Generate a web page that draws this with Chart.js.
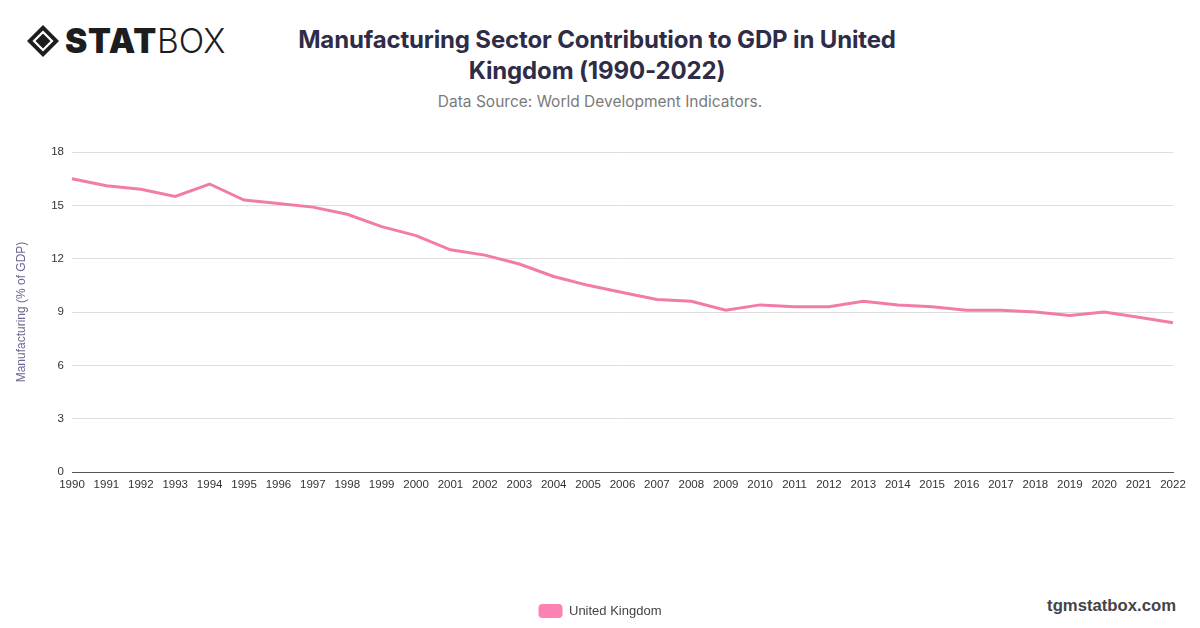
<!DOCTYPE html>
<html>
<head>
<meta charset="utf-8">
<script src="https://cdn.jsdelivr.net/npm/chart.js@4.4.1/dist/chart.umd.min.js"></script>
<style>
  html, body { margin:0; padding:0; background:#fff; width:1200px; height:628px; overflow:hidden; }
  #logo { position:absolute; left:26px; top:22px; height:38px; display:flex; align-items:center; }
  #logo .t1 { font-family:Inter, sans-serif; font-weight:900; font-size:33.5px; color:#1d1d1f; letter-spacing:0.8px; margin-left:5px; }
  #logo .t2 { font-family:Inter, sans-serif; font-weight:300; font-size:33.5px; color:#1d1d1f; letter-spacing:0px; margin-left:0px; }
  #title { position:absolute; left:247px; width:700px; top:24px; text-align:center; font-family:Inter, sans-serif; font-weight:700; font-size:24px; line-height:31px; color:#2f2c47; letter-spacing:-0.15px; }
  #sub { position:absolute; left:300px; width:600px; top:92px; text-align:center; font-family:Inter, sans-serif; font-size:15.5px; color:#7a7a7a; }
  #wm { position:absolute; right:24px; top:596px; font-family:"Liberation Sans", Arial, sans-serif; font-weight:700; font-size:16.7px; color:#444; }
  #wrap { position:absolute; left:0; top:130px; width:1200px; height:498px; }
</style>
</head>
<body>
<div id="logo">
  <svg width="34" height="34" viewBox="0 0 34 34">
    <polygon points="17,1 33,17 17,33 1,17" fill="#1d1d1f"/>
    <polygon points="17,8 26,17 17,26 8,17" fill="none" stroke="#fff" stroke-width="2.2"/>
  </svg>
  <span class="t1">STAT</span><span class="t2">BOX</span>
</div>
<div id="title">Manufacturing Sector Contribution to GDP in United<br>Kingdom (1990-2022)</div>
<div id="sub">Data Source: World Development Indicators.</div>
<div id="wm">tgmstatbox.com</div>
<div id="wrap"><canvas id="c"></canvas></div>
<script>
const years = ["1990","1991","1992","1993","1994","1995","1996","1997","1998","1999","2000","2001","2002","2003","2004","2005","2006","2007","2008","2009","2010","2011","2012","2013","2014","2015","2016","2017","2018","2019","2020","2021","2022"];
const ukValues = [16.5,16.1,15.9,15.5,16.2,15.3,15.1,14.9,14.5,13.8,13.3,12.5,12.2,11.7,11.0,10.5,10.1,9.7,9.6,9.1,9.4,9.3,9.3,9.6,9.4,9.3,9.1,9.1,9.0,8.8,9.0,8.7,8.4];
const seriesName = "United Kingdom";
const yTitle = "Manufacturing (% of GDP)";

const tickFont = { family: "'Liberation Sans', Arial, sans-serif", size: 11.5 };

const legendCenterPlugin = {
  id: 'legendCenter',
  afterLayout(chart) {
    const lg = chart.legend;
    if (!lg) return;
    const shift = chart.width / 2 - (lg.left + lg.right) / 2;
    lg.left += shift;
    lg.right += shift;
  }
};

new Chart(document.getElementById('c'), {
  type: 'line',
  data: {
    labels: years,
    datasets: [{
      label: seriesName,
      data: ukValues,
      borderColor: '#f27ca9',
      backgroundColor: '#fb82b2',
      borderWidth: 3,
      pointRadius: 0,
      pointHoverRadius: 0,
      tension: 0,
      fill: false
    }]
  },
  plugins: [legendCenterPlugin],
  options: {
    responsive: true,
    maintainAspectRatio: false,
    animation: false,
    layout: { padding: { left: 10, right: 27, top: 22, bottom: 0 } },
    plugins: {
      title: { display: false },
      tooltip: { enabled: false },
      legend: {
        position: 'bottom',
        labels: {
          boxWidth: 24,
          boxHeight: 14,
          useBorderRadius: true,
          borderRadius: 4,
          padding: 10,
          color: '#444',
          font: { family: "'Liberation Sans', Arial, sans-serif", size: 13 },
          generateLabels(chart) {
            const items = Chart.defaults.plugins.legend.labels.generateLabels(chart);
            items.forEach(it => { it.lineWidth = 0; it.strokeStyle = 'rgba(0,0,0,0)'; it.fillStyle = '#fb82b2'; });
            return items;
          }
        }
      }
    },
    scales: {
      x: {
        offset: false,
        grid: { display: false, drawTicks: false },
        border: { display: true, color: '#555', width: 1 },
        ticks: { color: '#333', font: tickFont, maxRotation: 0, autoSkip: false, padding: 6 },
        afterFit(scale) { scale.height = 122; }
      },
      y: {
        min: 0,
        max: 18,
        ticks: { stepSize: 3, color: '#333', font: tickFont, padding: 8 },
        grid: {
          drawTicks: false,
          color: ctx => (ctx.tick && ctx.tick.value === 0) ? '#555' : '#dedede',
          lineWidth: 1
        },
        border: { display: false },
        title: {
          display: true,
          text: yTitle,
          color: '#6b6890',
          font: { family: "'Liberation Sans', Arial, sans-serif", size: 12 },
          padding: { top: 4, bottom: 4 }
        },
        afterFit(scale) { scale.width = 62; }
      }
    }
  }
});
</script>
</body>
</html>
